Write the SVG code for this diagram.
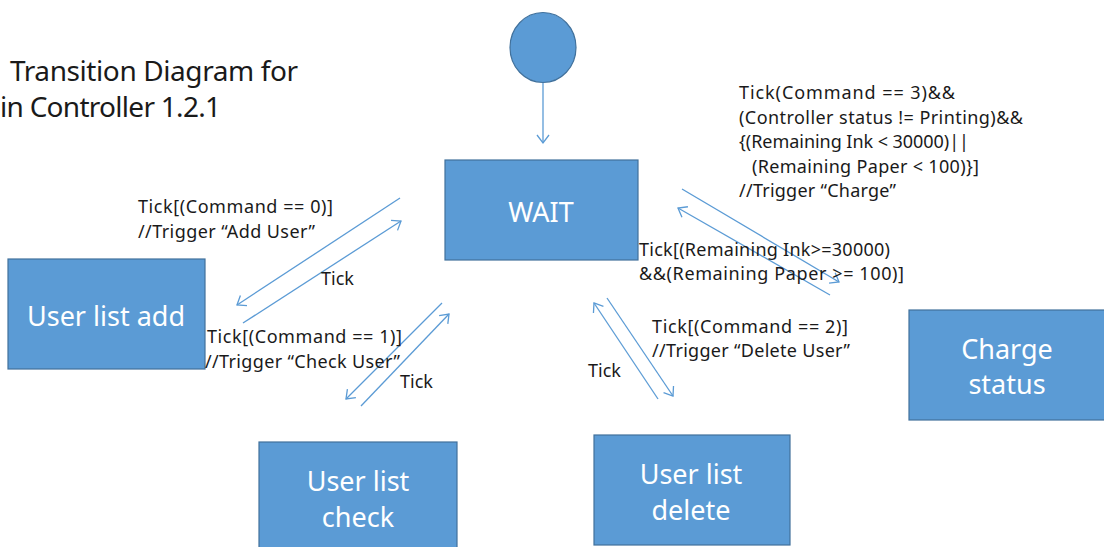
<svg xmlns="http://www.w3.org/2000/svg" width="1104" height="547" viewBox="0 0 1104 547">
<style>
.box{fill:#5b9bd5;stroke:#41719c;stroke-width:1.2}
.bt{font-family:"Noto Sans","Open Sans",sans-serif;font-size:27px;fill:#ffffff;text-anchor:middle}
.lb{font-family:"Noto Sans","Open Sans",sans-serif;font-size:18px;fill:#1a1a1a}
.tt{font-family:"Noto Sans","Open Sans",sans-serif;font-size:28px;fill:#1a1a1a}
.cn{stroke:#5b9bd5;stroke-width:1.3;fill:none;marker-end:url(#ah)}
</style>
<defs>
<marker id="ah" markerUnits="userSpaceOnUse" viewBox="-10 -8 12 16" refX="0" refY="0" markerWidth="12" markerHeight="16" orient="auto">
<path d="M-8,-6 L0,0 L-8,6" fill="none" stroke="#5b9bd5" stroke-width="1.3"/>
</marker>
</defs>
<rect width="1104" height="547" fill="#ffffff"/>
<g id="title">
<text class="tt" x="10" y="81" textLength="288" lengthAdjust="spacing">Transition Diagram for</text>
<text class="tt" x="0" y="117" textLength="221" lengthAdjust="spacing">in Controller 1.2.1</text>
</g>
<g id="start"><ellipse cx="543" cy="47.5" rx="33" ry="35" class="box"/></g>
<g id="wait"><rect x="445" y="160" width="193" height="100" class="box"/><text class="bt" x="541" y="222">WAIT</text></g>
<g id="add"><rect x="8" y="259" width="197" height="110" class="box"/><text class="bt" x="106" y="326">User list add</text></g>
<g id="check"><rect x="259" y="442" width="198" height="115" class="box"/><text class="bt" x="358" y="491">User list</text><text class="bt" x="358" y="527">check</text></g>
<g id="delete"><rect x="594" y="435" width="196" height="110" class="box"/><text class="bt" x="691" y="484">User list</text><text class="bt" x="691" y="520">delete</text></g>
<g id="charge"><rect x="909" y="310" width="200" height="110" class="box"/><text class="bt" x="1007" y="359">Charge</text><text class="bt" x="1007" y="394">status</text></g>
<g id="connectors">
<line class="cn" x1="543" y1="83" x2="543" y2="143"/>
<line class="cn" x1="400" y1="198" x2="237" y2="305"/>
<line class="cn" x1="243" y1="323" x2="401" y2="221"/>
<line class="cn" x1="442" y1="303" x2="346" y2="399"/>
<line class="cn" x1="361" y1="406" x2="449" y2="314"/>
<line class="cn" x1="658" y1="399" x2="594" y2="303"/>
<line class="cn" x1="607" y1="298" x2="673" y2="396"/>
<line class="cn" x1="682" y1="189" x2="839" y2="282"/>
<line class="cn" x1="830" y1="295" x2="678" y2="208"/>
</g>
<g id="labels">
<text class="lb" x="138" y="213" textLength="195" lengthAdjust="spacing">Tick[(Command == 0)]</text>
<text class="lb" x="138" y="238" textLength="177" lengthAdjust="spacing">//Trigger “Add User”</text>
<text class="lb" x="321" y="285">Tick</text>
<text class="lb" x="207" y="343" textLength="195" lengthAdjust="spacing">Tick[(Command == 1)]</text>
<text class="lb" x="205" y="368" textLength="195" lengthAdjust="spacing">//Trigger “Check User”</text>
<text class="lb" x="400" y="388">Tick</text>
<text class="lb" x="652" y="333" textLength="196" lengthAdjust="spacing">Tick[(Command == 2)]</text>
<text class="lb" x="652" y="357" textLength="198" lengthAdjust="spacing">//Trigger “Delete User”</text>
<text class="lb" x="588" y="377">Tick</text>
<text class="lb" x="739" y="99" textLength="216" lengthAdjust="spacing">Tick(Command == 3)&amp;&amp;</text>
<text class="lb" x="739" y="124" textLength="284" lengthAdjust="spacing">(Controller status != Printing)&amp;&amp;</text>
<text class="lb" x="739" y="148" textLength="230" lengthAdjust="spacing">{(Remaining Ink &lt; 30000)||</text>
<text class="lb" x="752" y="173" textLength="227" lengthAdjust="spacing">(Remaining Paper &lt; 100)}]</text>
<text class="lb" x="739" y="197" textLength="157" lengthAdjust="spacing">//Trigger “Charge”</text>
<text class="lb" x="639" y="256" textLength="251" lengthAdjust="spacing">Tick[(Remaining Ink&gt;=30000)</text>
<text class="lb" x="639" y="280" textLength="265" lengthAdjust="spacing">&amp;&amp;(Remaining Paper &gt;= 100)]</text>
</g>
</svg>
